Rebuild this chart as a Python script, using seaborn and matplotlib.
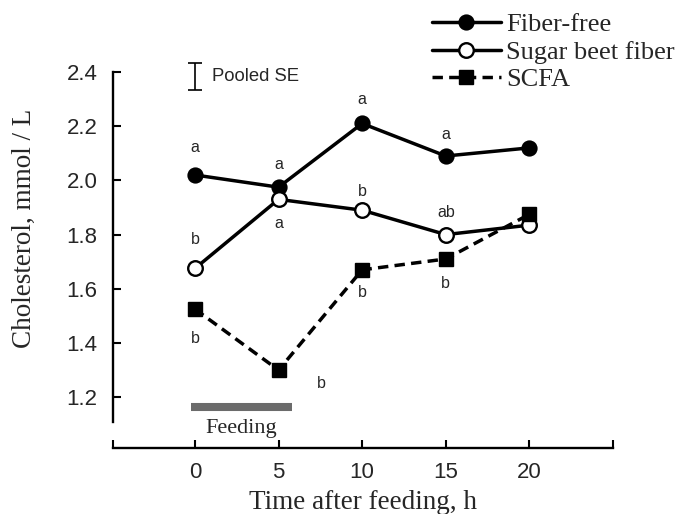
import pandas as pd
import matplotlib
matplotlib.use("Agg")
import matplotlib.pyplot as plt
import seaborn as sns

hours = [0, 5, 10, 15, 20]
fiber_free = [2.02, 1.975, 2.21, 2.09, 2.12]
sugar_beet = [1.675, 1.93, 1.89, 1.80, 1.835]
scfa = [1.525, 1.30, 1.67, 1.71, 1.875]

# significance letters per point ("" = none)
letters_ff = ["a", "a", "a", "a", ""]
letters_sb = ["b", "a", "b", "ab", ""]
letters_scfa = ["b", "b", "b", "b", ""]

pooled_se_x = 0
pooled_se_mid = 2.383
pooled_se_half = 0.05

feeding_start = -0.25
feeding_end = 5.8
feeding_level = 1.163

sns.set_style("ticks")
plt.rcParams["font.family"] = ["Liberation Sans", "DejaVu Sans"]
serif = ["Liberation Serif", "DejaVu Serif"]

fig = plt.figure(figsize=(6.85, 5.14), dpi=100)
ax = fig.add_axes([113 / 685, 1 - 448 / 514, 500 / 685, 376 / 514])

lw = 2.5
sns.lineplot(x=hours, y=fiber_free, ax=ax, color="k", lw=lw, marker="o",
             markersize=10.5, markerfacecolor="k", markeredgecolor="k",
             markeredgewidth=1.2, label="Fiber-free")
sns.lineplot(x=hours, y=sugar_beet, ax=ax, color="k", lw=lw, marker="o",
             markersize=10.5, markerfacecolor="white", markeredgecolor="k",
             markeredgewidth=1.7, label="Sugar beet fiber")
sns.lineplot(x=hours, y=scfa, ax=ax, color="k", lw=lw, marker="s",
             markersize=9.5, markerfacecolor="k", markeredgecolor="k",
             markeredgewidth=1.0, linestyle=(0, (3.0, 1.8)), label="SCFA")

# letter offsets in points (layout only)
off_ff = [(0, 19.5), (0, 16.5), (0, 17.5), (0, 15.5), (0, 0)]
off_sb = [(0, 20.5), (0, -17.5), (0, 13.7), (0, 15.6), (0, 0)]
off_scfa = [(0, -21.5), (31, -10), (0, -16.6), (0, -17.5), (0, 0)]
for ys, labs, offs in [(fiber_free, letters_ff, off_ff),
                       (sugar_beet, letters_sb, off_sb),
                       (scfa, letters_scfa, off_scfa)]:
    for x, y, lab, off in zip(hours, ys, labs, offs):
        if lab:
            ax.annotate(lab, (x, y), xytext=off, textcoords="offset points",
                        ha="center", va="center", fontsize=11.5)

# pooled SE bar
ax.errorbar([pooled_se_x], [pooled_se_mid], yerr=[pooled_se_half], fmt="none",
            ecolor="k", elinewidth=1.2, capsize=5, capthick=1.2, clip_on=False)
ax.annotate("Pooled SE", (pooled_se_x, pooled_se_mid), xytext=(12, 0),
            textcoords="offset points", ha="left", va="center", fontsize=13.3)

# feeding period bar
ax.plot([feeding_start, feeding_end], [feeding_level, feeding_level],
        color="0.42", lw=5.8, solid_capstyle="butt")
ax.annotate("Feeding", ((feeding_start + feeding_end) / 2, feeding_level),
            xytext=(0, -15), textcoords="offset points", ha="center",
            va="center", fontsize=16, family=serif, annotation_clip=False)

ax.set_xlim(-4.9, 25)
ax.set_ylim(1.0125, 2.4)
ax.set_xticks(hours)
ax.set_xticks([-4.9, 25], minor=True)
ax.set_yticks([1.2, 1.4, 1.6, 1.8, 2.0, 2.2, 2.4])
ax.set_yticklabels(["1.2", "1.4", "1.6", "1.8", "2.0", "2.2", "2.4"])
ax.tick_params(which="both", direction="in", length=6, width=1.5,
               labelsize=16, color="k")
ax.tick_params(axis="x", pad=10)
ax.tick_params(axis="y", pad=11)
sns.despine(ax=ax)
ax.spines["left"].set_bounds(1.108, 2.4)
for s in ["left", "bottom"]:
    ax.spines[s].set_linewidth(1.7)
    ax.spines[s].set_color("k")

ax.set_xlabel("Time after feeding, h", fontsize=19.5, family=serif, labelpad=5)
ax.set_ylabel("Cholesterol, mmol / L", fontsize=19.5, family=serif)
ax.yaxis.set_label_coords(-0.152, 0.585)

ax.legend(loc="upper left", bbox_to_anchor=(432 / 685, 1 - 13 / 514),
          bbox_transform=fig.transFigure, frameon=False, borderpad=0,
          borderaxespad=0, handlelength=2.6, handletextpad=0.22,
          labelspacing=0.15, prop={"family": serif, "size": 19})

fig.savefig("out.png", dpi=100)
